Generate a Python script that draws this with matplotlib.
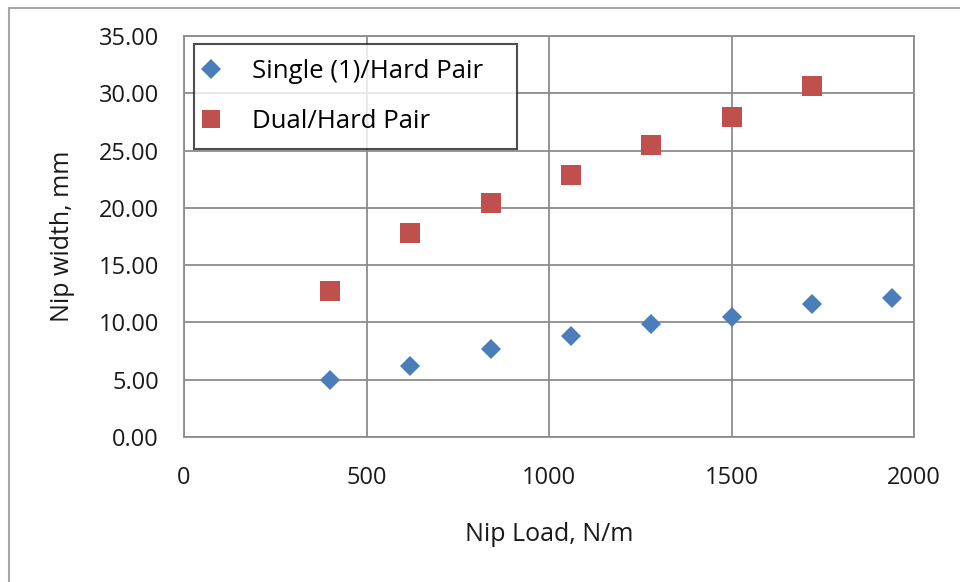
import matplotlib
matplotlib.use("Agg")
import matplotlib.pyplot as plt
from matplotlib.patches import Rectangle

plt.rcParams['font.family'] = ['Open Sans', 'DejaVu Sans']

# Nip load (N/m) for each measurement
single_load = [400, 620, 840, 1060, 1280, 1500, 1720, 1940]
single_width = [5.0, 6.2, 7.7, 8.8, 9.9, 10.5, 11.6, 12.1]

dual_load = [400, 620, 840, 1060, 1280, 1500, 1720]
dual_width = [12.75, 17.8, 20.4, 22.9, 25.5, 27.95, 30.6]

x_ticks = [0, 500, 1000, 1500, 2000]
y_ticks = [0, 5, 10, 15, 20, 25, 30, 35]

grid_col = '#8c8c8c'
text_col = '#1a1a1a'
blue = '#4a7ebb'
red = '#c0504d'

fig = plt.figure(figsize=(9.6, 5.82), dpi=100)
ax = fig.add_axes([184 / 960, 1 - 437 / 582, 730 / 960, 401 / 582])

# outer chart border (cut off at the right and bottom in the original)
fig.patches.append(Rectangle((9 / 960, -0.1), 1.2, 1 - 8 / 582 + 0.1,
                             transform=fig.transFigure, fill=False,
                             edgecolor='#a6a6a6', linewidth=1.5))

ax.plot(single_load, single_width, linestyle='none', marker='D', ms=10.2,
        color=blue, markeredgewidth=0, label='Single (1)/Hard Pair', zorder=3)
ax.plot(dual_load, dual_width, linestyle='none', marker='s', ms=14.2,
        color=red, markeredgewidth=0, label='Dual/Hard Pair', zorder=3)

ax.set_xlim(0, 2000)
ax.set_ylim(0, 35)
ax.set_xticks(x_ticks)
ax.set_yticks(y_ticks)
ax.set_yticklabels([f'{v:.2f}' for v in y_ticks])
ax.grid(True, color=grid_col, linewidth=1.3)
ax.set_axisbelow(True)
for s in ax.spines.values():
    s.set_color(grid_col)
    s.set_linewidth(1.3)
ax.tick_params(length=0, labelsize=17, colors=text_col)
ax.tick_params(axis='x', pad=21)
ax.tick_params(axis='y', pad=18)

ax.set_xlabel('Nip Load, N/m', fontsize=18, color=text_col, labelpad=23)
ax.set_ylabel('Nip width, mm', fontsize=18, color=text_col, labelpad=17)

# legend box spans a fixed width, as in the original
leg = ax.legend(loc='upper left',
                bbox_to_anchor=(10 / 730, 0.5, 323 / 730, 0.5 - 8 / 401),
                mode='expand', fontsize=18.5, frameon=True, fancybox=False,
                borderpad=0.6, labelspacing=0.95, handletextpad=1.55,
                handlelength=0.1, borderaxespad=0)
leg.get_frame().set_edgecolor('#222222')
leg.get_frame().set_linewidth(1.5)
for h in leg.legend_handles:
    h.set_markersize(10)
leg.legend_handles[1].set_markersize(13.5)

fig.savefig('out.png', dpi=100)
